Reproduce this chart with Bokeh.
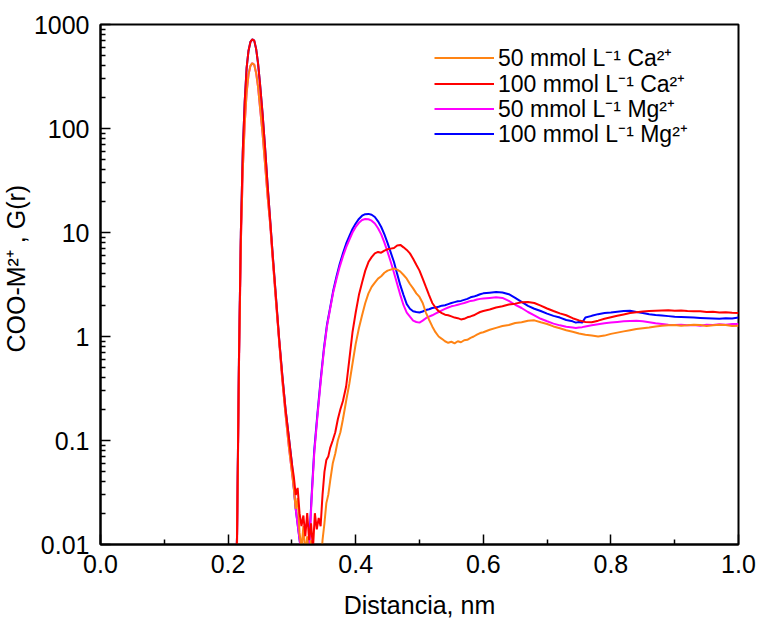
from bokeh.plotting import figure
from bokeh.models import (FixedTicker, CustomJSTickFormatter, Legend, LegendItem,
                          Title, Range1d)
from bokeh.embed import file_html
from bokeh.resources import INLINE

# ---------------- data ----------------
r_head = [0.210, 0.214, 0.217, 0.220, 0.223, 0.226, 0.229, 0.232, 0.235, 0.238,
          0.241, 0.244, 0.247, 0.250, 0.254, 0.258, 0.262, 0.266, 0.270, 0.275,
          0.280, 0.285, 0.290, 0.295, 0.300]

# 50 mmol/L Ca2+
ca50_r = r_head + [0.303, 0.306, 0.309, 0.312, 0.315, 0.318, 0.321, 0.324, 0.327, 0.330,
                   0.333, 0.336, 0.339, 0.342, 0.345, 0.348, 0.351, 0.354, 0.357, 0.360,
                   0.364, 0.368, 0.372, 0.376, 0.380, 0.385, 0.390, 0.395, 0.400, 0.405,
                   0.410, 0.415, 0.420, 0.425, 0.430, 0.435, 0.440, 0.445, 0.450, 0.455,
                   0.460, 0.465, 0.470, 0.475, 0.480, 0.485, 0.490, 0.495, 0.500, 0.505,
                   0.510, 0.515, 0.520, 0.525, 0.530, 0.535, 0.540, 0.545, 0.550, 0.555,
                   0.560, 0.565, 0.570, 0.575, 0.580, 0.585, 0.590, 0.595, 0.600, 0.610,
                   0.620, 0.630, 0.640, 0.650, 0.660, 0.670, 0.680, 0.690, 0.700, 0.710,
                   0.720, 0.730, 0.740, 0.750, 0.760, 0.770, 0.780, 0.790, 0.800, 0.810,
                   0.820, 0.830, 0.840, 0.850, 0.860, 0.870, 0.880, 0.890, 0.900, 0.910,
                   0.920, 0.930, 0.940, 0.950, 0.960, 0.970, 0.980, 0.990, 1.000]
ca50_g = [0.002, 0.01, 0.5, 8, 40, 110, 220, 330, 400, 425,
          410, 340, 250, 160, 90, 45, 22, 12, 5.5, 2.2,
          0.9, 0.38, 0.18, 0.09, 0.05,
          0.035, 0.022, 0.028, 0.013, 0.009, 0.015, 0.008, 0.012, 0.007, 0.011,
          0.006, 0.009, 0.005, 0.008, 0.006, 0.011, 0.016, 0.025, 0.030, 0.041,
          0.060, 0.075, 0.10, 0.12, 0.16, 0.24, 0.35, 0.55, 0.85, 1.2,
          1.6, 2.1, 2.6, 3.0, 3.3, 3.6, 3.8, 4.1, 4.3, 4.4,
          4.5, 4.4, 4.2, 3.9, 3.6, 3.2, 2.9, 2.6, 2.4, 2.1,
          1.7, 1.45, 1.25, 1.1, 1.0, 0.95, 0.90, 0.87, 0.89, 0.86,
          0.90, 0.88, 0.92, 0.93, 0.97, 1.00, 1.04, 1.08, 1.10, 1.16,
          1.21, 1.26, 1.29, 1.35, 1.37, 1.42, 1.43, 1.37, 1.32, 1.25,
          1.20, 1.15, 1.11, 1.07, 1.04, 1.02, 1.00, 1.02, 1.06, 1.09,
          1.12, 1.15, 1.18, 1.20, 1.22, 1.25, 1.27, 1.28, 1.29, 1.27,
          1.28, 1.30, 1.29, 1.26, 1.28, 1.30, 1.29, 1.26, 1.27]

# 100 mmol/L Ca2+
ca100_r = ca50_r
ca100_g = [0.002, 0.012, 0.6, 10, 60, 180, 380, 560, 680, 720,
           700, 580, 420, 270, 140, 65, 28, 13, 6, 2.4,
           0.95, 0.42, 0.20, 0.11, 0.06,
           0.045, 0.030, 0.035, 0.020, 0.015, 0.019, 0.012, 0.020, 0.011, 0.016,
           0.009, 0.020, 0.014, 0.018, 0.015, 0.030, 0.050, 0.065, 0.070, 0.085,
           0.10, 0.12, 0.16, 0.20, 0.24, 0.33, 0.60, 1.1, 1.7, 2.5,
           3.3, 4.3, 5.2, 5.8, 6.3, 6.5, 6.4, 6.7, 6.9, 7.0,
           7.1, 7.5, 7.6, 7.2, 6.8, 6.3, 5.6, 4.9, 4.3, 3.6,
           3.0, 2.5, 2.1, 1.9, 1.75, 1.68, 1.62, 1.60, 1.56, 1.52,
           1.50, 1.46, 1.48, 1.53, 1.56, 1.60, 1.66, 1.72, 1.76, 1.82,
           1.90, 1.95, 2.03, 2.07, 2.13, 2.15, 2.10, 1.98, 1.86, 1.76,
           1.67, 1.60, 1.50, 1.43, 1.38, 1.37, 1.42, 1.48, 1.53, 1.58,
           1.63, 1.68, 1.71, 1.74, 1.76, 1.77, 1.78, 1.79, 1.77, 1.78,
           1.76, 1.75, 1.75, 1.72, 1.73, 1.70, 1.71, 1.69, 1.68]

# Mg2+ series (first peak lies under the Ca2+ curves)
mg_r = r_head + [0.303, 0.306, 0.310, 0.315, 0.320, 0.324, 0.327, 0.331, 0.335, 0.340, 0.345,
                 0.350, 0.355, 0.360, 0.365, 0.370, 0.375, 0.380, 0.385, 0.390, 0.395,
                 0.400, 0.405, 0.410, 0.415, 0.420, 0.425, 0.430, 0.435, 0.440, 0.445,
                 0.450, 0.455, 0.460, 0.465, 0.470, 0.475, 0.480, 0.485, 0.490, 0.495,
                 0.500, 0.505, 0.510, 0.515, 0.520, 0.525, 0.530, 0.535, 0.540, 0.545,
                 0.550, 0.555, 0.560, 0.565, 0.570, 0.575, 0.580, 0.585, 0.590, 0.595,
                 0.600, 0.610, 0.620, 0.630, 0.640, 0.650, 0.660, 0.670, 0.680, 0.690,
                 0.700, 0.710, 0.720, 0.730, 0.740, 0.745, 0.750, 0.755, 0.760, 0.770,
                 0.780, 0.790, 0.800, 0.810, 0.820, 0.830, 0.840, 0.850, 0.860, 0.870,
                 0.880, 0.890, 0.900, 0.910, 0.920, 0.930, 0.940, 0.950, 0.960, 0.970,
                 0.980, 0.990, 1.000]
# 50 mmol/L Mg2+
mg50_g = [0.002, 0.01, 0.5, 8, 40, 110, 220, 330, 400, 425,
          410, 340, 250, 160, 90, 45, 22, 12, 5.5, 2.2,
          0.9, 0.38, 0.18, 0.09, 0.05,
          0.035, 0.022, 0.014, 0.008, 0.005, 0.006, 0.009, 0.028, 0.075, 0.17, 0.36,
          0.72, 1.25, 1.85, 2.7, 3.6, 4.7, 5.9, 7.2, 8.5, 10.0,
          11.3, 12.4, 13.2, 13.5, 13.4, 13.0, 12.2, 11.0, 9.6, 8.0,
          6.5, 5.2, 4.1, 3.2, 2.5, 2.0, 1.7, 1.55, 1.42, 1.38,
          1.36, 1.42, 1.50, 1.55, 1.60, 1.66, 1.72, 1.78, 1.84, 1.90,
          1.95, 1.98, 2.02, 2.06, 2.10, 2.15, 2.20, 2.22, 2.27, 2.30,
          2.32, 2.35, 2.38, 2.35, 2.20, 2.02, 1.88, 1.72, 1.60, 1.48,
          1.40, 1.33, 1.28, 1.24, 1.22, 1.21, 1.22, 1.23, 1.25, 1.28,
          1.31, 1.34, 1.36, 1.38, 1.40, 1.41, 1.42, 1.40, 1.37, 1.34,
          1.32, 1.30, 1.29, 1.30, 1.28, 1.29, 1.27, 1.30, 1.29, 1.31,
          1.30, 1.32, 1.32]
# 100 mmol/L Mg2+
mg100_g = [0.002, 0.012, 0.6, 10, 60, 180, 380, 560, 680, 720,
           700, 580, 420, 270, 140, 65, 28, 13, 6, 2.4,
           0.95, 0.42, 0.20, 0.11, 0.06,
           0.035, 0.022, 0.014, 0.008, 0.005, 0.006, 0.010, 0.030, 0.080, 0.18, 0.38,
           0.75, 1.3, 1.9, 2.8, 3.8, 5.0, 6.3, 7.8, 9.2, 10.8,
           12.2, 13.5, 14.5, 15.0, 15.1, 14.8, 14.1, 12.8, 11.3, 9.6,
           7.9, 6.4, 5.2, 4.0, 3.1, 2.5, 2.05, 1.85, 1.75, 1.72,
           1.70, 1.74, 1.80, 1.83, 1.88, 1.90, 1.93, 1.98, 2.00, 2.05,
           2.10, 2.14, 2.18, 2.20, 2.25, 2.30, 2.38, 2.42, 2.48, 2.55,
           2.60, 2.64, 2.68, 2.65, 2.55, 2.35, 2.15, 1.97, 1.85, 1.76,
           1.66, 1.58, 1.52, 1.44, 1.40, 1.36, 1.38, 1.36, 1.52, 1.58,
           1.64, 1.68, 1.70, 1.73, 1.76, 1.77, 1.72, 1.68, 1.64, 1.61,
           1.59, 1.57, 1.55, 1.54, 1.53, 1.52, 1.51, 1.50, 1.49, 1.48,
           1.50, 1.49, 1.52]

x_ticks = [0.0, 0.2, 0.4, 0.6, 0.8, 1.0]
x_minor = [0.1, 0.3, 0.5, 0.7, 0.9]
y_ticks = [0.01, 0.1, 1, 10, 100, 1000]
y_minor = [m * d for d in (0.01, 0.1, 1, 10, 100) for m in range(2, 10)]

labels = ["50 mmol L\u207b\u00b9 Ca\u00b2\u207a", "100 mmol L\u207b\u00b9 Ca\u00b2\u207a",
          "50 mmol L\u207b\u00b9 Mg\u00b2\u207a", "100 mmol L\u207b\u00b9 Mg\u00b2\u207a"]
colors = ["#FF8414", "#FF0000", "#FF00FF", "#0000FF"]

FONT = "Liberation Sans"

p = figure(width=757, height=623, y_axis_type="log",
           x_range=Range1d(0, 1), y_range=Range1d(0.01, 1000),
           output_backend="svg", toolbar_location=None,
           min_border_left=100, min_border_right=19, min_border_top=24, min_border_bottom=79)
p.xgrid.visible = False
p.ygrid.visible = False
p.outline_line_color = "black"
p.outline_line_width = 2
p.outline_line_alpha = 1
p.background_fill_color = "white"
p.border_fill_color = "white"

r_mg100 = p.line(mg_r, mg100_g, line_color=colors[3], line_width=2)
r_mg50 = p.line(mg_r, mg50_g, line_color=colors[2], line_width=2)
r_ca50 = p.line(ca50_r, ca50_g, line_color=colors[0], line_width=2)
r_ca100 = p.line(ca100_r, ca100_g, line_color=colors[1], line_width=2)

for ax in (p.xaxis[0], p.yaxis[0]):
    ax.axis_line_width = 2
    ax.axis_line_color = "black"
    ax.major_tick_in = 10
    ax.major_tick_out = 0
    ax.minor_tick_in = 5
    ax.minor_tick_out = 0
    ax.major_tick_line_width = 1.5
    ax.minor_tick_line_width = 1.5
    ax.major_label_text_font = FONT
    ax.major_label_text_font_size = "25px"
    ax.major_label_text_color = "black"

p.xaxis.ticker = FixedTicker(ticks=x_ticks, minor_ticks=x_minor)
p.xaxis.formatter = CustomJSTickFormatter(code="return tick.toFixed(1);")
p.xaxis.major_label_standoff = 10
p.xaxis.axis_label = "Distancia, nm"
p.xaxis.axis_label_text_font = FONT
p.xaxis.axis_label_text_font_size = "25px"
p.xaxis.axis_label_text_font_style = "normal"
p.xaxis.axis_label_text_color = "black"
p.xaxis.axis_label_standoff = 15

p.yaxis.ticker = FixedTicker(ticks=y_ticks, minor_ticks=y_minor)
p.yaxis.formatter = CustomJSTickFormatter(code="return String(Number(tick.toPrecision(3)));")
p.yaxis.major_label_standoff = 11

ytitle = Title(text="COO-M\u00b2\u207a , G(r)", align="left", offset=192, standoff=0,
               vertical_align="middle",
               text_font=FONT, text_font_size="25px", text_font_style="normal",
               text_color="black")
p.add_layout(ytitle, "left")

# one single-entry legend per row, so the rows can sit as close as in the reference
rows = [(labels[0], r_ca50, 471), (labels[1], r_ca100, 445),
        (labels[2], r_mg50, 420), (labels[3], r_mg100, 395)]
for lab, rend, ypos in rows:
    lg = Legend(items=[LegendItem(label=lab, renderers=[rend])],
                location=(334, ypos), orientation="vertical",
                label_text_font=FONT, label_text_font_size="23px",
                label_text_color="black",
                glyph_width=60, glyph_height=25, label_height=25, spacing=0,
                label_standoff=4, padding=0, margin=0,
                border_line_alpha=0, background_fill_alpha=0)
    p.add_layout(lg)

open("out.html", "w").write(file_html(p, INLINE))
